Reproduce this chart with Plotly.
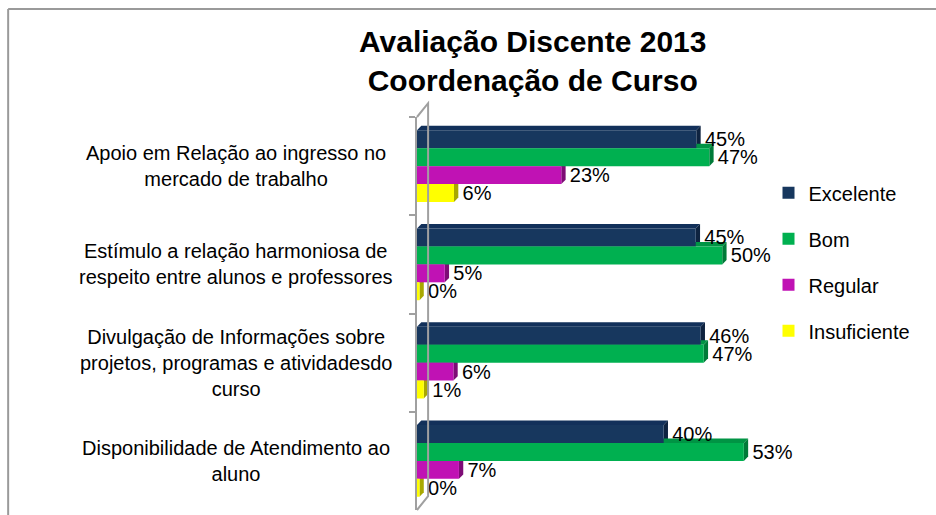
import plotly.graph_objects as go

categories = [
    "Apoio em Relação ao ingresso no<br>mercado de trabalho",
    "Estímulo a relação harmoniosa de<br>respeito entre alunos e professores",
    "Divulgação de Informações sobre<br>projetos, programas e atividadesdo<br>curso",
    "Disponibilidade de Atendimento ao<br>aluno",
]
series_names = ["Excelente", "Bom", "Regular", "Insuficiente"]
excelente = [45.3, 45.2, 46.0, 40.0]
bom = [47.4, 49.5, 46.5, 53.0]
regular = [23.4, 4.5, 5.9, 6.8]
insuficiente = [6.0, 0.4, 1.1, 0.4]
colors = ["#17375E", "#00B050", "#C012B4", "#FFFF00"]
top_colors = ["#12305A", "#009444", "#A00E96", "#D8D800"]
side_colors = ["#0E2340", "#007A38", "#7E0C76", "#A8A800"]

series_values = [excelente, bom, regular, insuficiente]

font_title = "Liberation Sans Narrow, Arial Narrow, Liberation Sans, Arial, sans-serif"
font_text = "Liberation Sans, Arial, sans-serif"

BARGAP = 0.27
n_series = len(series_names)
bar_w = (1 - BARGAP) / n_series
DX = 0.7     # depth along value axis (percent units)
DY = 0.045   # depth along category axis (category units)


def pct(v):
    return f"\u00a0{int(v + 0.5)}%"


fig = go.Figure()
shapes = []
for i, (name, vals, col, tcol, scol) in enumerate(
        zip(series_names, series_values, colors, top_colors, side_colors)):
    fig.add_trace(go.Bar(
        y=categories, x=vals, name=name, orientation="h",
        marker=dict(color=col, line=dict(width=0)),
        text=[pct(v) for v in vals],
        textposition="outside",
        constraintext="none",
        textfont=dict(family=font_text, size=20, color="#000000"),
        cliponaxis=False,
        legendgroup=name,
    ))
    for c, v in enumerate(vals):
        center = c - (1 - BARGAP) / 2 + bar_w * (i + 0.5)
        top = center - bar_w / 2
        bot = center + bar_w / 2
        shapes.append(dict(
            type="path", xref="x", yref="y", layer="below",
            path=f"M 0,{top} L {DX},{top - DY} L {v + DX},{top - DY} L {v},{top} Z",
            fillcolor=tcol, line=dict(width=0),
        ))
        shapes.append(dict(
            type="path", xref="x", yref="y", layer="below",
            path=f"M {v},{top} L {v + DX},{top - DY} L {v + DX},{bot - DY} L {v},{bot} Z",
            fillcolor=scol, line=dict(width=0),
        ))

for cat in categories:
    fig.add_annotation(
        x=-0.49, xref="paper", y=cat, yref="y", text=cat, showarrow=False,
        xanchor="center", align="center",
        font=dict(family=font_text, size=20, color="#000000"),
    )

fig.add_annotation(
    x=0.313, xref="paper", y=1.1425, yref="paper",
    text="<b>Avaliação Discente 2013<br>Coordenação de Curso</b>",
    showarrow=False, xanchor="center", yanchor="middle", align="center",
    font=dict(family=font_title, size=30, color="#000000"),
)

shapes += [
    dict(type="line", xref="paper", yref="paper", x0=-1.105, x1=1.5, y0=1.275, y1=1.275,
         line=dict(color="#9A9A9A", width=2)),
    dict(type="line", xref="paper", yref="paper", x0=-1.105, x1=-1.105, y0=1.275, y1=-0.02,
         line=dict(color="#9A9A9A", width=2)),
    dict(type="path", xref="paper", yref="paper",
         path="M 0,1.0 L 0.03,1.035 L 0.03,0.035 L 0,0",
         line=dict(color="#A0A0A0", width=2)),
]

fig.update_layout(
    width=936, height=515,
    margin=dict(l=417, r=149, t=117, b=5),
    paper_bgcolor="white", plot_bgcolor="white",
    barmode="group", bargap=BARGAP, bargroupgap=0,
    legend=dict(
        x=0.95, xanchor="left", y=0.857, yanchor="top",
        font=dict(family=font_text, size=20, color="#000000"),
        tracegroupgap=17, itemwidth=30, bgcolor="rgba(0,0,0,0)",
    ),
    showlegend=True,
    xaxis=dict(range=[0, 60], showgrid=False, showticklabels=False,
               zeroline=False, showline=False, ticks=""),
    yaxis=dict(range=[3.5, -0.5], showticklabels=False, showgrid=False,
               showline=True, linecolor="#A0A0A0", linewidth=2,
               ticks="outside", tickson="boundaries", ticklen=6,
               tickcolor="#A0A0A0", tickwidth=2),
    shapes=shapes,
)

fig.write_html("out.html", config={"displayModeBar": False},
               post_script="document.body.style.margin='0';")
